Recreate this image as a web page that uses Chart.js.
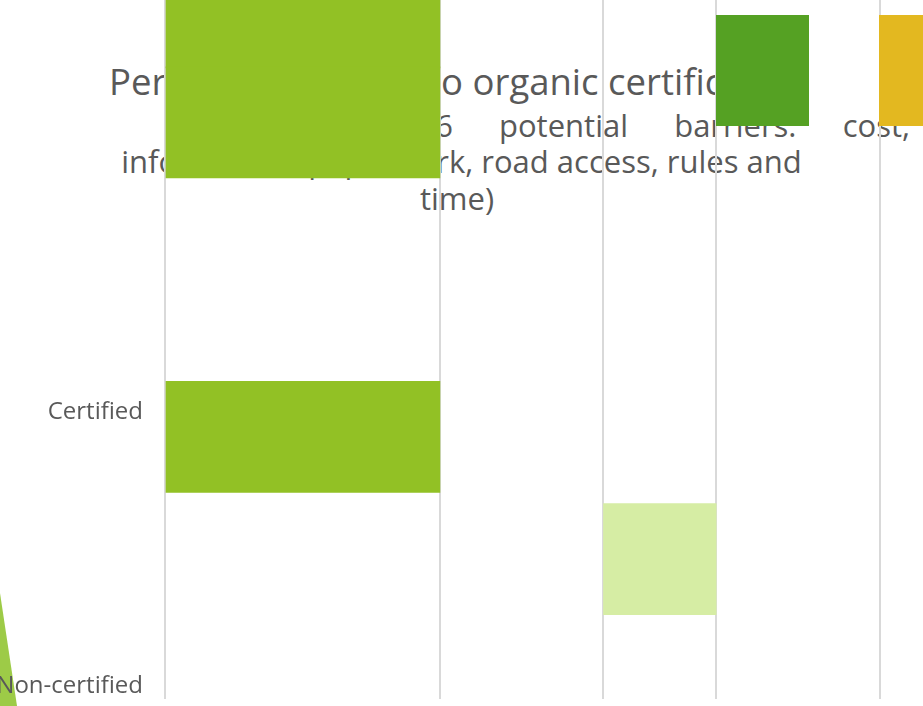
<!DOCTYPE html>
<html>
<head>
<meta charset="utf-8">
<script src="https://cdn.jsdelivr.net/npm/chart.js@4"></script>
<style>
  body { margin: 0; background: #fff; }
  #wrap { position: relative; width: 923px; height: 706px; overflow: hidden; background: #fff; }
  .t { position: absolute; color: #595959; font-family: "Open Sans", sans-serif; white-space: nowrap; z-index: 0; }
  .title { left: 0; width: 918px; top: 61px; text-align: center; font-size: 36.5px; line-height: 40px; }
  .sub { font-size: 31px; line-height: 37px; }
  .sub1 { left: 426px; width: 484px; top: 106.5px; text-align: justify; text-align-last: justify; }
  .sub2 { left: 0; width: 923px; top: 142.5px; text-align: center; }
  .sub3 { left: 0; width: 914px; top: 179.5px; text-align: center; }
  /* slide decoration, bottom-left corner */
  .deco { position: absolute; left: 0; top: 593px; width: 17px; height: 113px; background: #9dcb47;
          clip-path: polygon(0 0, 100% 100%, 0 100%); z-index: 0; }
  #chart { position: absolute; left: 0; top: 0; z-index: 1; }
  #legend { position: absolute; left: 716px; top: 15px; display: flex; gap: 70px; z-index: 2; }
  #legend span { display: block; flex: none; width: 93px; height: 111px; }
</style>
</head>
<body>
<div id="wrap">
  <div class="deco"></div>
  <div class="t title">Perceived barriers to organic certification</div>
  <div class="t sub sub1">(6 potential barriers: cost,</div>
  <div class="t sub sub2">information, paperwork, road access, rules and</div>
  <div class="t sub sub3">time)</div>
  <canvas id="chart" width="923" height="706"></canvas>
  <div id="legend"></div>
</div>
<script>
// axis labels
const categories = ["Certified", "Non-certified"]
const categoryRows = [16, 27]
const xTicks = [0, 20, 31.9, 40.1, 52]

// series (floating bars: [start, end] on x, row on y)
const seriesNames = ["Cost", "Information", "Paperwork", "Road access"]
const costBars = []
const costRows = []
const informationBars = []
const informationRows = []
const paperworkBars = [[0, 20], [0, 20], [0, 20]]
const paperworkRows = [0, 4.4, 17]
const roadAccessBars = [[31.9, 40.1]]
const roadAccessRows = [21.9]

const seriesColors = ["#55a123", "#e3b820", "#92c125", "#d6eda4"]

function toPoints(bars, rows) {
  return bars.map((b, i) => ({ x: b, y: rows[i] }))
}

const allBars = [
  toPoints(costBars, costRows),
  toPoints(informationBars, informationRows),
  toPoints(paperworkBars, paperworkRows),
  toPoints(roadAccessBars, roadAccessRows),
]

const chart = new Chart(document.getElementById("chart"), {
  type: "bar",
  data: {
    datasets: seriesNames.map((name, i) => ({
      label: name,
      data: allBars[i],
      backgroundColor: seriesColors[i],
      borderWidth: 0,
      barThickness: 111,
      grouped: false,
    })),
  },
  options: {
    indexAxis: "y",
    responsive: false,
    animation: false,
    devicePixelRatio: 1,
    layout: { padding: { left: 0, right: 2, top: 0, bottom: 7 } },
    plugins: {
      legend: { display: false },
      tooltip: { enabled: false },
    },
    scales: {
      x: {
        type: "linear",
        min: 0,
        max: 55,
        afterBuildTicks: (scale) => {
          scale.ticks = xTicks.map((v) => ({ value: v }))
        },
        ticks: { display: false },
        grid: { color: "#d9d9d9", lineWidth: 2, drawTicks: false },
        border: { display: false },
      },
      y: {
        type: "linear",
        reverse: true,
        offset: false,
        min: -0.5,
        max: 27.5,
        afterBuildTicks: (scale) => {
          scale.ticks = categoryRows.map((v) => ({ value: v }))
        },
        afterFit: (scale) => {
          scale.width = 165
          scale.paddingTop = 0
          scale.paddingBottom = 0
        },
        ticks: {
          autoSkip: false,
          padding: 22,
          color: "#595959",
          font: { family: "'Open Sans', sans-serif", size: 24 },
          callback: (value, index) => categories[index],
        },
        grid: { display: false, drawTicks: false, offset: false },
        border: { display: false },
      },
    },
  },
})

// HTML legend built from the chart's own items (text not shown in the source)
const legendEl = document.getElementById("legend")
chart.options.plugins.legend.labels.generateLabels(chart).forEach((item) => {
  const box = document.createElement("span")
  box.style.background = item.fillStyle
  box.setAttribute("aria-label", item.text)
  legendEl.appendChild(box)
})
</script>
</body>
</html>
